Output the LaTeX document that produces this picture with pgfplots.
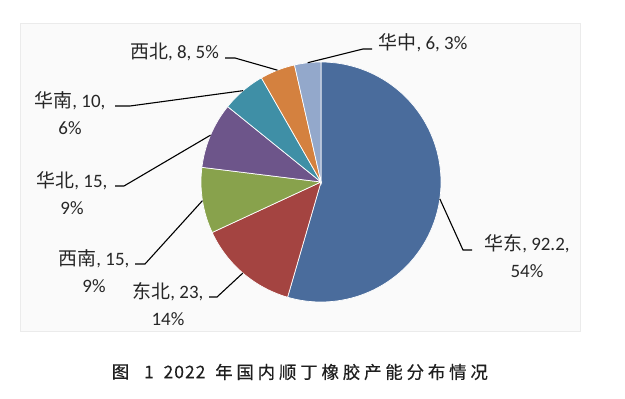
\documentclass[border=0pt]{standalone}
\usepackage{pgfplots}
\pgfplotsset{compat=1.18}
\usepgfplotslibrary{polar}
\usepackage{fontspec}
\setmainfont{Carlito}
\newfontfamily\cjk{Noto Sans CJK SC}
\definecolor{cHD}{HTML}{4A6C9C}
\definecolor{cDB}{HTML}{A44441}
\definecolor{cXN}{HTML}{88A24C}
\definecolor{cHB}{HTML}{6D558A}
\definecolor{cHN}{HTML}{3F8FA6}
\definecolor{cXB}{HTML}{D4813F}
\definecolor{cHZ}{HTML}{93A8CB}
\definecolor{txt}{HTML}{262626}
% capacity values (10^4 t/a)
\def\vHD{92.2}\def\vDB{23}\def\vXN{15}\def\vHB{15}\def\vHN{10}\def\vXB{8}\def\vHZ{6}
\pgfmathsetmacro\tot{\vHD+\vDB+\vXN+\vHB+\vHN+\vXB+\vHZ}
\pgfmathsetmacro\aO{90}
\pgfmathsetmacro\aA{\aO-360*(\vHD/\tot)}
\pgfmathsetmacro\aB{\aA-360*(\vDB/\tot)}
\pgfmathsetmacro\aC{\aB-360*(\vXN/\tot)}
\pgfmathsetmacro\aD{\aC-360*(\vHB/\tot)}
\pgfmathsetmacro\aE{\aD-360*(\vHN/\tot)}
\pgfmathsetmacro\aF{\aE-360*(\vXB/\tot)}
\pgfmathsetmacro\aG{\aF-360*(\vHZ/\tot)}
\begin{document}
\begin{tikzpicture}[x=1bp,y=1bp]
\path[use as bounding box] (0,0) rectangle (625,398);
\fill[fill=black!2,draw=black!8] (20,67) rectangle (580,375);
\begin{polaraxis}[hide axis, scale only axis, width=240bp, height=240bp,
  ymin=0, ymax=1, xmin=0, xmax=360, anchor=center, at={(321bp,216bp)}, clip=false]
\addplot[fill=cHD, draw=white, line width=0.7bp, domain=\aA:\aO, samples=90] {1} -- (axis cs:0,0) -- cycle;
\addplot[fill=cDB, draw=white, line width=0.7bp, domain=\aB:\aA, samples=30] {1} -- (axis cs:0,0) -- cycle;
\addplot[fill=cXN, draw=white, line width=0.7bp, domain=\aC:\aB, samples=20] {1} -- (axis cs:0,0) -- cycle;
\addplot[fill=cHB, draw=white, line width=0.7bp, domain=\aD:\aC, samples=20] {1} -- (axis cs:0,0) -- cycle;
\addplot[fill=cHN, draw=white, line width=0.7bp, domain=\aE:\aD, samples=15] {1} -- (axis cs:0,0) -- cycle;
\addplot[fill=cXB, draw=white, line width=0.7bp, domain=\aF:\aE, samples=12] {1} -- (axis cs:0,0) -- cycle;
\addplot[fill=cHZ, draw=white, line width=0.7bp, domain=\aG:\aF, samples=10] {1} -- (axis cs:0,0) -- cycle;
\coordinate (m1) at (axis cs:{(\aO+\aA)/2},1);
\coordinate (m2) at (axis cs:{(\aA+\aB)/2},1);
\coordinate (m3) at (axis cs:{(\aB+\aC)/2},1);
\coordinate (m4) at (axis cs:{(\aC+\aD)/2},1);
\coordinate (m5) at (axis cs:{(\aD+\aE)/2},1);
\coordinate (m6) at (axis cs:{(\aE+\aF)/2},1);
\coordinate (m7) at (axis cs:{(\aF+\aG)/2},1);
\end{polaraxis}
\begin{scope}[line width=1.1bp, black]
\draw (m1) -- (463,148) -- (472,148);
\draw (m2) -- (217,101) -- (209,101);
\draw (m3) -- (145,134) -- (135,134);
\draw (m4) -- (124,212) -- (115,212);
\draw (m5) -- (130,292) -- (115,292);
\draw (m6) -- (235,340) -- (225,340);
\draw (m7) -- (363,349) -- (372,349);
\end{scope}
\begin{scope}[every node/.style={text=txt, font=\fontsize{19}{27}\selectfont, align=center, inner sep=0pt}]
\node at (527,142) {{\cjk 华东}, 92.2,\\54\%};
\node at (168,94) {{\cjk 东北}, 23,\\14\%};
\node at (94,127) {{\cjk 西南}, 15,\\9\%};
\node at (72,205) {{\cjk 华北}, 15,\\9\%};
\node at (70,285) {{\cjk 华南}, 10,\\6\%};
\node at (174.5,346) {{\cjk 西北}, 8, 5\%};
\node at (423,355) {{\cjk 华中}, 6, 3\%};
\end{scope}
\begin{scope}[every node/.style={text=black!88, font=\cjk\fontsize{17.5}{19}\selectfont\addfontfeatures{FakeBold=0.4}, inner sep=0pt}]
\node at (120.5,26) {图};
\node at (149,26) {1};
\node at (184.5,26) {\addfontfeatures{LetterSpace=6}2022};
\node[anchor=west] at (215,26) {\addfontfeatures{LetterSpace=22}年国内顺丁橡胶产能分布情况};
\end{scope}
\end{tikzpicture}
\end{document}
